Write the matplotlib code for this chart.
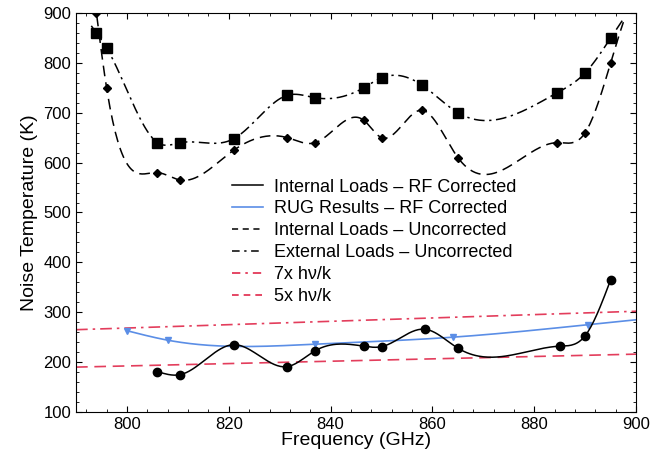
import numpy as np
import matplotlib.pyplot as plt
from matplotlib.ticker import MultipleLocator

plt.rcParams['font.family'] = ['Liberation Sans', 'DejaVu Sans']

# Datos
freq_unc = [794, 796, 806, 810.5, 821, 831.5, 837, 846.5, 850, 858, 865, 884.5, 890, 895]
ext_unc = [860, 830, 640, 640, 648, 735, 730, 750, 770, 755, 700, 740, 780, 850]
int_unc = [900, 750, 580, 565, 625, 650, 640, 685, 650, 705, 610, 640, 660, 800]

freq_rf = [806, 810.5, 821, 831.5, 837, 846.5, 850, 858.5, 865, 885, 890, 895]
int_rf = [181, 175, 235, 191, 223, 232, 231, 266, 228, 232, 253, 365]

freq_rug = [800, 808, 837, 864, 890.5]
rug_rf = [263, 244, 236, 250, 275]

freq_hv = [790, 900]
hv7 = [265, 302]
hv5 = [190, 216]


def spline(x, y, xs):
    # spline cubica natural
    x = np.asarray(x, float)
    y = np.asarray(y, float)
    n = len(x)
    h = np.diff(x)
    A = np.zeros((n, n))
    b = np.zeros(n)
    A[0, 0] = A[-1, -1] = 1
    for i in range(1, n - 1):
        A[i, i - 1] = h[i - 1]
        A[i, i] = 2 * (h[i - 1] + h[i])
        A[i, i + 1] = h[i]
        b[i] = 6 * ((y[i + 1] - y[i]) / h[i] - (y[i] - y[i - 1]) / h[i - 1])
    M = np.linalg.solve(A, b)
    idx = np.clip(np.searchsorted(x, xs) - 1, 0, n - 2)
    x0, x1 = x[idx], x[idx + 1]
    hh = x1 - x0
    return (M[idx] * (x1 - xs) ** 3 / (6 * hh) + M[idx + 1] * (xs - x0) ** 3 / (6 * hh)
            + (y[idx] / hh - M[idx] * hh / 6) * (x1 - xs)
            + (y[idx + 1] / hh - M[idx + 1] * hh / 6) * (xs - x0))


fig = plt.figure(figsize=(6.64, 4.55), dpi=100)
ax = fig.add_axes([0.1145, 0.0945, 0.8435, 0.877])

red = '#e0284a'
blue = '#5b8ee6'

ax.plot(freq_hv, hv7, color=red, lw=1.2, dashes=(7, 3, 1.5, 3), alpha=0.9)
ax.plot(freq_hv, hv5, color=red, lw=1.2, dashes=(7, 4), alpha=0.9)

xs = np.linspace(793, 897.5, 400)
ax.plot(xs, spline(freq_unc, int_unc, xs), color='black', lw=1.1, dashes=(7, 4))
ax.plot(freq_unc, int_unc, 'D', color='black', ms=4.5)
ax.plot(xs, spline(freq_unc, ext_unc, xs), color='black', lw=1.1, dashes=(7, 3, 1.5, 3))
ax.plot(freq_unc, ext_unc, 's', color='black', ms=6.5)

xb = np.linspace(800, 900, 300)
ax.plot(xb, spline(freq_rug, rug_rf, xb), color=blue, lw=1.2)
ax.plot(freq_rug, rug_rf, 'v', color=blue, ms=5)

xr = np.linspace(806, 895, 300)
ax.plot(xr, spline(freq_rf, int_rf, xr), color='black', lw=1.1)
ax.plot(freq_rf, int_rf, 'o', color='black', ms=6)

# leyenda
h1, = ax.plot([], [], color='black', lw=1.1, label='Internal Loads \u2013 RF Corrected')
h2, = ax.plot([], [], color=blue, lw=1.2, label='RUG Results \u2013 RF Corrected')
h3, = ax.plot([], [], color='black', lw=1.1, dashes=(4, 3), label='Internal Loads \u2013 Uncorrected')
h4, = ax.plot([], [], color='black', lw=1.1, dashes=(5, 3, 1.5, 3), label='External Loads \u2013 Uncorrected')
h5, = ax.plot([], [], color=red, lw=1.2, dashes=(5, 3, 1.5, 3), label='7x h\u03bd/k')
h6, = ax.plot([], [], color=red, lw=1.2, dashes=(4, 3), label='5x h\u03bd/k')
ax.legend(handles=[h1, h2, h3, h4, h5, h6], loc='upper left', bbox_to_anchor=(0.278, 0.585),
          frameon=False, fontsize=13, handlelength=1.72, labelspacing=0.27, handletextpad=0.6,
          borderpad=0, borderaxespad=0)

ax.set_xlim(790, 900)
ax.set_ylim(100, 900)
ax.xaxis.set_major_locator(MultipleLocator(20))
ax.xaxis.set_minor_locator(MultipleLocator(4))
ax.yaxis.set_major_locator(MultipleLocator(100))
ax.yaxis.set_minor_locator(MultipleLocator(20))
ax.tick_params(which='both', direction='in', top=True, right=True, labelsize=12)
ax.tick_params(which='major', length=4.5)
ax.tick_params(which='minor', length=2.2)
ax.set_xlabel('Frequency (GHz)', fontsize=14, labelpad=0)
ax.set_ylabel('Noise Temperature (K)', fontsize=14, labelpad=4)

fig.savefig('out.png', dpi=100)
